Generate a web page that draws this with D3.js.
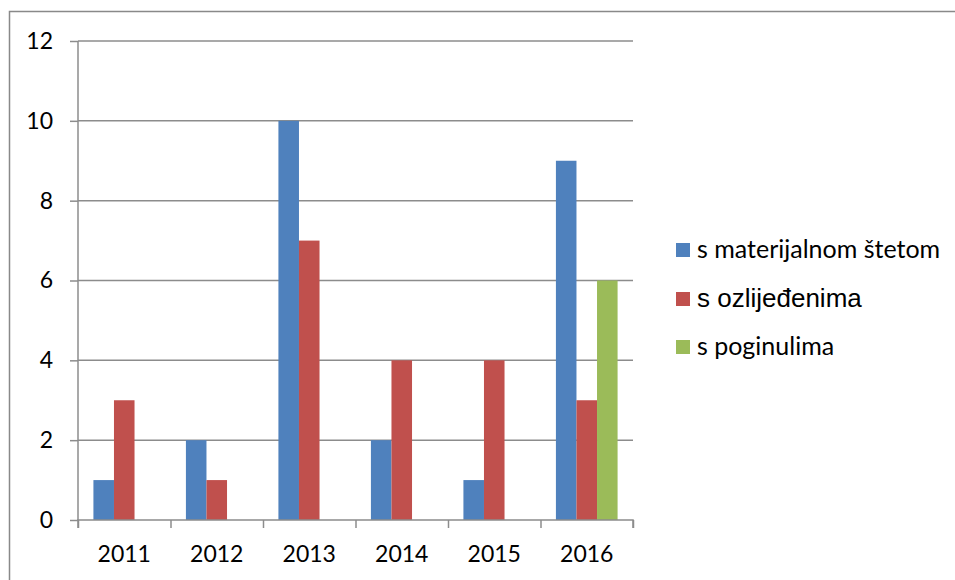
<!DOCTYPE html>
<html>
<head>
<meta charset="utf-8">
<script src="https://cdn.jsdelivr.net/npm/d3@7"></script>
<style>
	body { margin: 0; background: #fff; }
	svg { display: block; }
</style>
</head>
<body>
<div id="chart"></div>
<script>
const years = ["2011", "2012", "2013", "2014", "2015", "2016"];
const seriesNames = ["s materijalnom štetom", "s ozlijeđenima", "s poginulima"];
const materijalna = [1, 2, 10, 2, 1, 9];
const ozlijedeni = [3, 1, 7, 4, 4, 3];
const poginuli = [0, 0, 0, 0, 0, 6];
const yTicks = [0, 2, 4, 6, 8, 10, 12];
const colors = ["#4F81BD", "#C0504D", "#9BBB59"];

const width = 955,
	height = 580;
const plot = { left: 78, right: 633, top: 41, bottom: 520 };
const font = "Lato, 'Open Sans', sans-serif";

const svg = d3
	.select("#chart")
	.append("svg")
	.attr("width", width)
	.attr("height", height);

// outer frame
svg.append("rect")
	.attr("x", 9.5)
	.attr("y", 11.5)
	.attr("width", 960)
	.attr("height", 600)
	.attr("fill", "none")
	.attr("stroke", "#898989")
	.attr("stroke-width", 1.5);

const x = d3.scaleBand().domain(years).range([plot.left, plot.right]);
const barW = x.bandwidth() / 4.5;
const y = d3.scaleLinear().domain([0, 12]).range([plot.bottom, plot.top]);

// grid + y axis
const yAxis = d3.axisLeft(y).tickValues(yTicks).tickSize(8).tickPadding(17);
const gy = svg.append("g").attr("transform", `translate(${plot.left},0)`).call(yAxis);
gy.select(".domain").remove();
gy.selectAll(".tick line").attr("stroke", "#8c8c8c").attr("stroke-width", 1.5);
gy.selectAll(".tick text")
	.attr("font-family", font)
	.attr("font-size", 23)
	.attr("fill", "#000");

svg.append("g")
	.selectAll("line")
	.data(yTicks.filter((t) => t > 0))
	.enter()
	.append("line")
	.attr("x1", plot.left)
	.attr("x2", plot.right)
	.attr("y1", (d) => y(d))
	.attr("y2", (d) => y(d))
	.attr("stroke", "#8c8c8c")
	.attr("stroke-width", 1.5);

svg.append("line")
	.attr("x1", plot.left)
	.attr("x2", plot.left)
	.attr("y1", plot.top)
	.attr("y2", plot.bottom)
	.attr("stroke", "#8c8c8c")
	.attr("stroke-width", 1.5);

// bars
const series = [materijalna, ozlijedeni, poginuli];
series.forEach((vals, s) => {
	svg.append("g")
		.selectAll("rect")
		.data(vals.map((v, i) => ({ year: years[i], v })).filter((d) => d.v > 0))
		.enter()
		.append("rect")
		.attr("x", (d) => x(d.year) + (x.bandwidth() - 3 * barW) / 2 + s * barW)
		.attr("y", (d) => y(d.v))
		.attr("width", barW)
		.attr("height", (d) => y(0) - y(d.v))
		.attr("fill", colors[s]);
});

// x axis
const xAxis = d3
	.axisBottom(d3.scaleLinear().domain([0, years.length]).range([plot.left, plot.right]))
	.tickValues(d3.range(years.length + 1))
	.tickSize(8)
	.tickFormat("");
const gx = svg.append("g").attr("transform", `translate(0,${plot.bottom})`).call(xAxis);
gx.selectAll("path, line").attr("stroke", "#8c8c8c").attr("stroke-width", 1.5);
gx.select(".domain").attr("d", `M${plot.left},8V0H${plot.right}V8`);

svg.append("g")
	.selectAll("text")
	.data(years)
	.enter()
	.append("text")
	.attr("x", (d) => x(d) + x.bandwidth() / 2)
	.attr("y", 562)
	.attr("text-anchor", "middle")
	.attr("font-family", font)
	.attr("font-size", 23)
	.attr("fill", "#000")
	.text((d) => d);

// legend
const legendY = [250, 299, 347];
const leg = svg.append("g")
	.selectAll("g")
	.data(seriesNames)
	.enter()
	.append("g")
	.attr("transform", (d, i) => `translate(676,${legendY[i]})`);

leg.append("rect")
	.attr("x", 0)
	.attr("y", -7)
	.attr("width", 14)
	.attr("height", 14)
	.attr("fill", (d, i) => colors[i]);

leg.append("text")
	.attr("x", 21)
	.attr("y", 8)
	.attr("font-family", (d, i) => (i === 1 ? "'Liberation Sans', Arial, sans-serif" : font))
	.attr("font-size", (d, i) => (i === 1 ? 26 : 25))
	.attr("fill", "#000")
	.text((d) => d);
</script>
</body>
</html>
